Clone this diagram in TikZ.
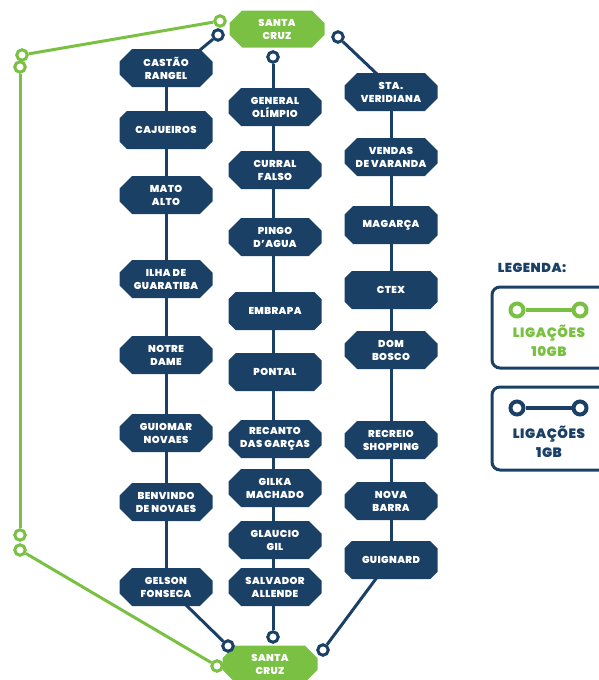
\documentclass[tikz,border=0pt]{standalone}
\usepackage{fontspec}
\setmainfont{Poppins}[BoldFont={Poppins Black}, BoldFeatures={LetterSpace=4}]
\usetikzlibrary{shapes.misc,backgrounds}
\definecolor{navy}{HTML}{1B4066}
\definecolor{lime}{HTML}{7AC143}
\begin{document}
\begin{tikzpicture}[x=1pt,y=-1pt,
  stop/.style={chamfered rectangle, chamfered rectangle xsep=9pt,
    fill=navy, text=white, minimum width=93pt, minimum height=38pt,
    inner sep=0pt, align=center,
    font=\bfseries\fontsize{10}{13}\selectfont},
  hub/.style={stop, fill=lime, minimum width=95pt, minimum height=37pt},
  ring/.style={circle, draw=#1, fill=white, line width=3pt,
    minimum size=10.5pt, inner sep=0pt},
  bigring/.style={ring=#1, line width=4pt, minimum size=13pt},
  link/.style={draw=navy, line width=3pt},
  glink/.style={draw=lime, line width=3pt},
  legbox/.style={draw=navy, line width=3pt, rounded corners=8pt}]
\useasboundingbox (0,0) rectangle (599,680);
\clip (0,0) rectangle (599,680);

% hubs
\node[hub] (scT) at (277,29) {SANTA\\CRUZ};
\node[hub] (scB) at (270,664) {SANTA\\CRUZ};

% first line of stations
\node[stop] (a1) at (166,68)  {CASTÃO\\RANGEL};
\node[stop] (a2) at (166,130) {CAJUEIROS};
\node[stop] (a3) at (166,195) {MATO\\ALTO};
\node[stop] (a4) at (166,279) {ILHA DE\\GUARATIBA};
\node[stop] (a5) at (166,355) {NOTRE\\DAME};
\node[stop] (a6) at (166,433) {GUIOMAR\\NOVAES};
\node[stop] (a7) at (166,502) {BENVINDO\\DE NOVAES};
\node[stop] (a8) at (166,587) {GELSON\\FONSECA};

% second line of stations
\node[stop] (b1) at (275,107) {GENERAL\\OLÍMPIO};
\node[stop] (b2) at (275,170) {CURRAL\\FALSO};
\node[stop] (b3) at (275,237) {PINGO\\D'AGUA};
\node[stop] (b4) at (275,311) {EMBRAPA};
\node[stop] (b5) at (275,372) {PONTAL};
\node[stop] (b6) at (275,439) {RECANTO\\DAS GARÇAS};
\node[stop] (b7) at (275,488) {GILKA\\MACHADO};
\node[stop] (b8) at (275,540) {GLAUCIO\\GIL};
\node[stop] (b9) at (275,587) {SALVADOR\\ALLENDE};

% third line of stations
\node[stop] (c1) at (391,92)  {STA.\\VERIDIANA};
\node[stop] (c2) at (391,157) {VENDAS\\DE VARANDA};
\node[stop] (c3) at (391,225) {MAGARÇA};
\node[stop] (c4) at (391,290) {CTEX};
\node[stop] (c5) at (391,350) {DOM\\BOSCO};
\node[stop] (c6) at (391,440) {RECREIO\\SHOPPING};
\node[stop] (c7) at (391,501) {NOVA\\BARRA};
\node[stop] (c8) at (391,560) {GUIGNARD};

% 10GB ring
\node[ring=lime] (gT)  at (220,21)  {};
\node[ring=lime] (gL1) at (22,55)   {};
\node[ring=lime] (gL2) at (20,67)   {};
\node[ring=lime] (gL3) at (20,535)  {};
\node[ring=lime] (gL4) at (20,550)  {};
\node[ring=lime] (gB)  at (217,666) {};

% 1GB terminals
\node[ring=navy] (d1) at (218,35)  {};
\node[ring=navy] (d2) at (273,57)  {};
\node[ring=navy] (d3) at (338,37)  {};
\node[ring=navy] (d4) at (228,646) {};
\node[ring=navy] (d5) at (273,637) {};
\node[ring=navy] (d6) at (323,650) {};

\coordinate (a1e) at (200,50);
\coordinate (a8e) at (185,604);
\coordinate (c1e) at (378,75);
\coordinate (c8e) at (378,576);

\begin{scope}[on background layer]
  \draw[glink] (gT) -- (gL1);
  \draw[glink] (gL2) -- (gL3);
  \draw[glink] (gL4) -- (gB);
  \draw[link] (d1) -- (a1e);
  \draw[link] (a1.center) -- (a8.center);
  \draw[link] (a8e) -- (d4);
  \draw[link] (d2) -- (d2 |- b1.center);
  \draw[link] (d2 |- b1.center) -- (d2 |- b9.center) -- (d5);
  \draw[link] (d3) -- (c1e);
  \draw[link] (c1.center) -- (c8.center);
  \draw[link] (c8e) -- (d6);
\end{scope}

% legend
\node[text=navy, font=\bfseries\fontsize{13}{15}\selectfont] (leg) at (532,268) {LEGENDA:};
\draw[legbox] (492,287) rectangle (615,368);
\draw[legbox] (492,387) rectangle (615,470);
\node[bigring=lime] (l1a) at (517,310) {};
\node[bigring=lime] (l1b) at (580,310) {};
\draw[glink, line width=4pt] (l1a) -- (l1b);
\node[text=lime, align=center, font=\bfseries\fontsize{13.5}{19}\selectfont] (l1t) at (549,341) {LIGAÇÕES\\10GB};
\node[bigring=navy] (l2a) at (517,408) {};
\node[bigring=navy] (l2b) at (580,408) {};
\draw[link, line width=4pt] (l2a) -- (l2b);
\node[text=navy, align=center, font=\bfseries\fontsize{13.5}{19}\selectfont] (l2t) at (549,442) {LIGAÇÕES\\1GB};
\end{tikzpicture}
\end{document}
